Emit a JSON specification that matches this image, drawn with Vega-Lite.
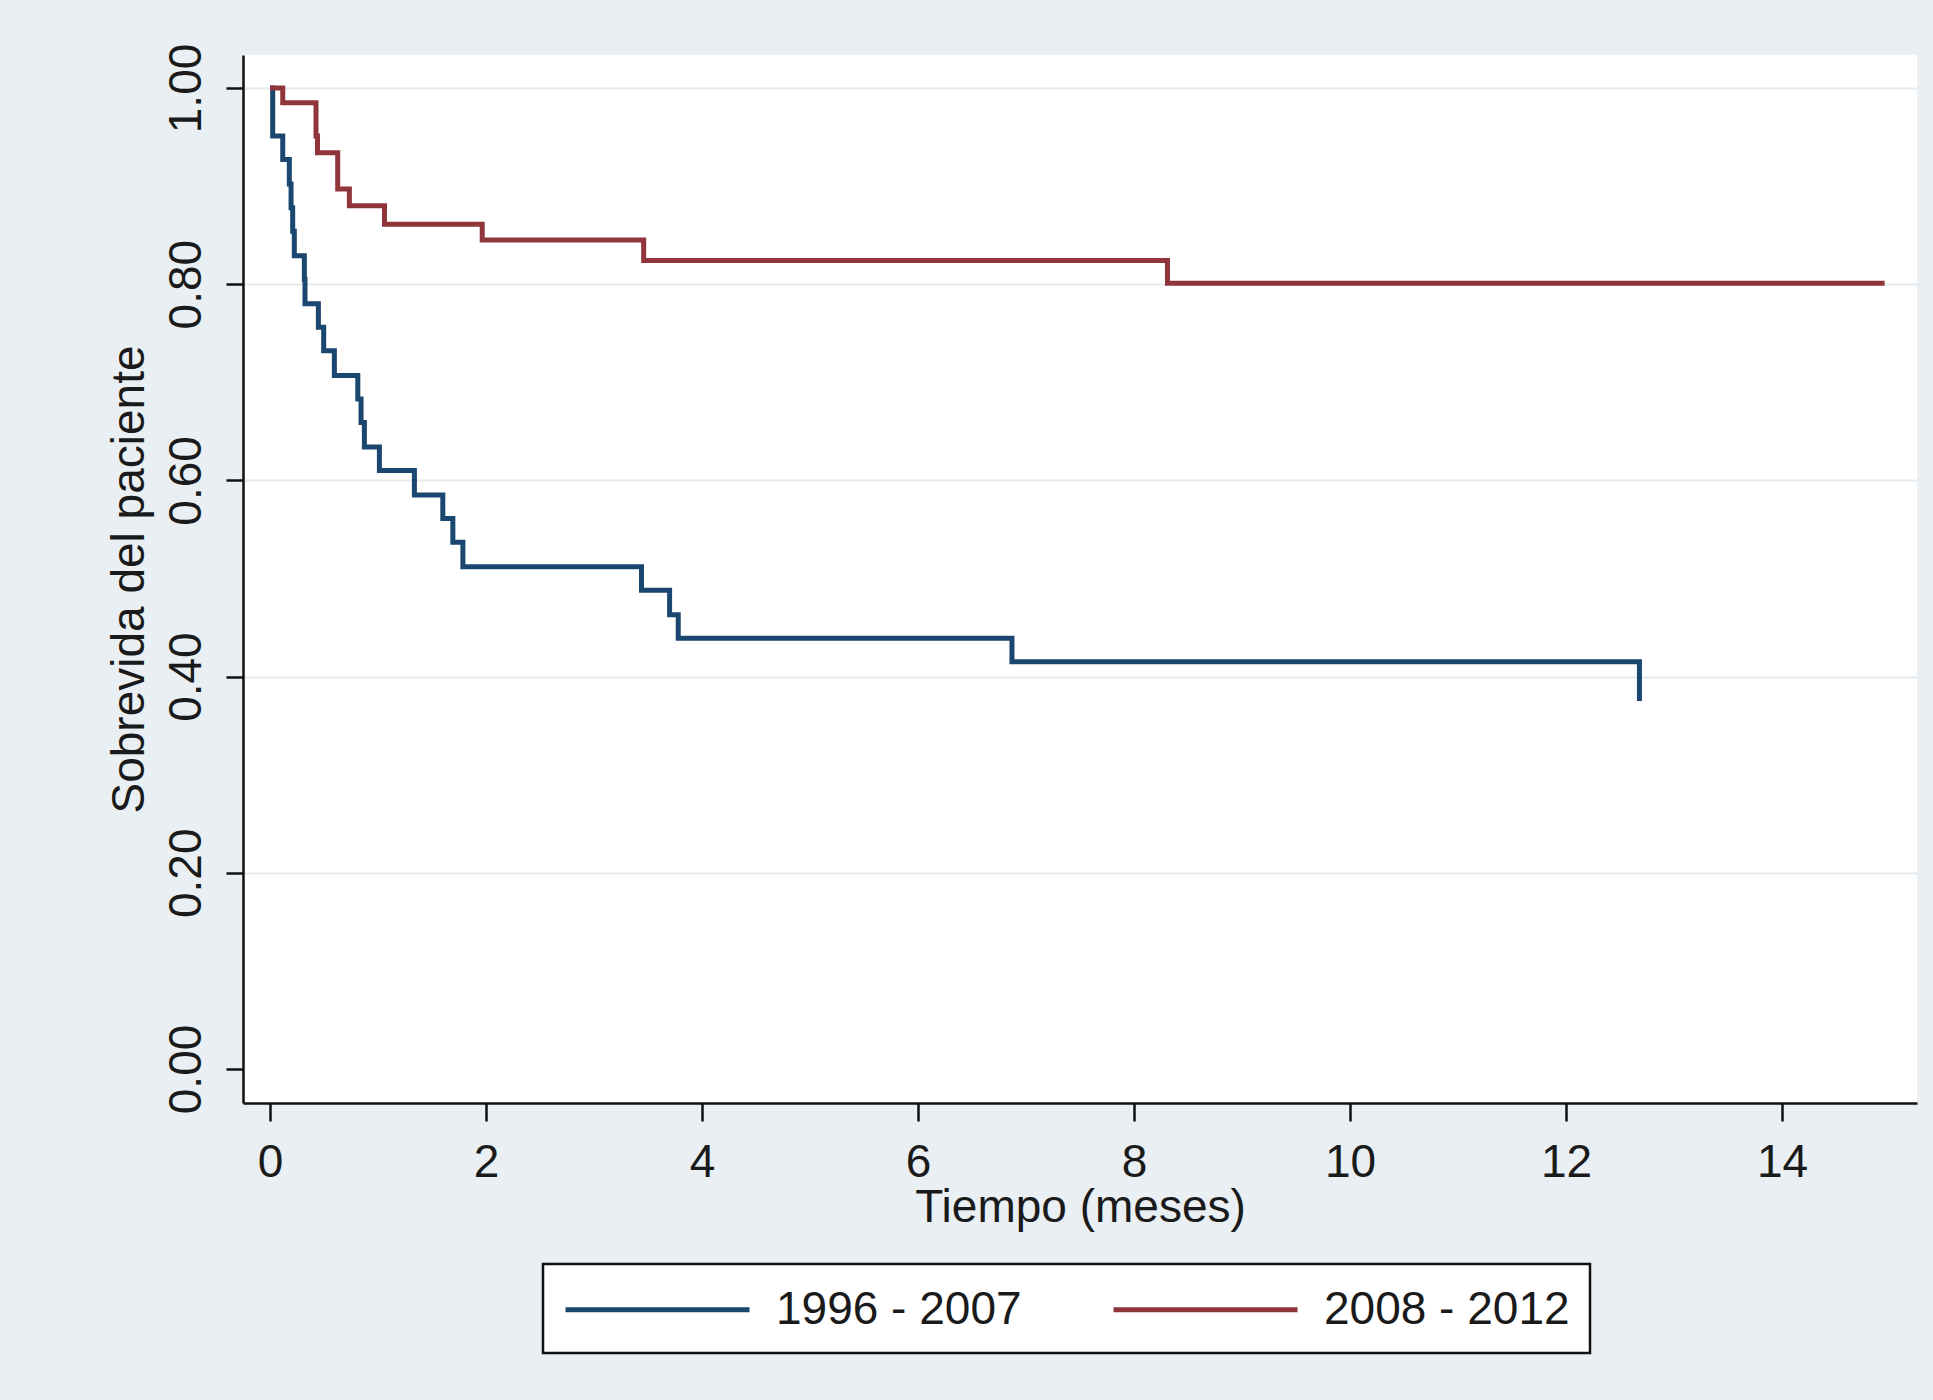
{
  "$schema": "https://vega.github.io/schema/vega-lite/v6.json",
  "width": 1674,
  "height": 1048,
  "autosize": "none",
  "padding": {"left": 243, "top": 55, "right": 16, "bottom": 297},
  "background": "#e9eff2",
  "config": {
    "view": {"fill": "white", "stroke": null},
    "font": "Liberation Sans",
    "legend": {"strokeWidth": 2.5}
  },
  "data": {
    "values": [
      {"t": 0, "S": 1.0, "grupo": "1996 - 2007"},
      {"t": 0.025, "S": 0.951, "grupo": "1996 - 2007"},
      {"t": 0.118, "S": 0.927, "grupo": "1996 - 2007"},
      {"t": 0.179, "S": 0.902, "grupo": "1996 - 2007"},
      {"t": 0.195, "S": 0.878, "grupo": "1996 - 2007"},
      {"t": 0.21, "S": 0.854, "grupo": "1996 - 2007"},
      {"t": 0.225, "S": 0.829, "grupo": "1996 - 2007"},
      {"t": 0.318, "S": 0.805, "grupo": "1996 - 2007"},
      {"t": 0.324, "S": 0.780, "grupo": "1996 - 2007"},
      {"t": 0.448, "S": 0.756, "grupo": "1996 - 2007"},
      {"t": 0.497, "S": 0.732, "grupo": "1996 - 2007"},
      {"t": 0.596, "S": 0.707, "grupo": "1996 - 2007"},
      {"t": 0.813, "S": 0.683, "grupo": "1996 - 2007"},
      {"t": 0.843, "S": 0.659, "grupo": "1996 - 2007"},
      {"t": 0.874, "S": 0.634, "grupo": "1996 - 2007"},
      {"t": 1.013, "S": 0.610, "grupo": "1996 - 2007"},
      {"t": 1.337, "S": 0.585, "grupo": "1996 - 2007"},
      {"t": 1.60, "S": 0.561, "grupo": "1996 - 2007"},
      {"t": 1.693, "S": 0.537, "grupo": "1996 - 2007"},
      {"t": 1.786, "S": 0.512, "grupo": "1996 - 2007"},
      {"t": 3.44, "S": 0.488, "grupo": "1996 - 2007"},
      {"t": 3.70, "S": 0.463, "grupo": "1996 - 2007"},
      {"t": 3.78, "S": 0.439, "grupo": "1996 - 2007"},
      {"t": 6.87, "S": 0.415, "grupo": "1996 - 2007"},
      {"t": 12.68, "S": 0.375, "grupo": "1996 - 2007"},
      {"t": 0, "S": 1.0, "grupo": "2008 - 2012"},
      {"t": 0.118, "S": 0.985, "grupo": "2008 - 2012"},
      {"t": 0.426, "S": 0.951, "grupo": "2008 - 2012"},
      {"t": 0.44, "S": 0.934, "grupo": "2008 - 2012"},
      {"t": 0.627, "S": 0.897, "grupo": "2008 - 2012"},
      {"t": 0.735, "S": 0.880, "grupo": "2008 - 2012"},
      {"t": 1.06, "S": 0.861, "grupo": "2008 - 2012"},
      {"t": 1.965, "S": 0.845, "grupo": "2008 - 2012"},
      {"t": 3.46, "S": 0.824, "grupo": "2008 - 2012"},
      {"t": 8.31, "S": 0.801, "grupo": "2008 - 2012"},
      {"t": 14.95, "S": 0.801, "grupo": "2008 - 2012"}
    ]
  },
  "mark": {"type": "line", "interpolate": "step-after", "strokeWidth": 5},
  "encoding": {
    "x": {
      "field": "t",
      "type": "quantitative",
      "scale": {"domain": [-0.25, 15.25], "nice": false, "zero": false},
      "axis": {
        "values": [0, 2, 4, 6, 8, 10, 12, 14],
        "title": "Tiempo (meses)",
        "titleFontSize": 46,
        "titleFontWeight": "normal",
        "titleColor": "#1a1a1a",
        "titlePadding": 0,
        "labelFontSize": 46,
        "labelColor": "#1a1a1a",
        "labelPadding": 19,
        "labelFlush": false,
        "tickSize": 18,
        "tickWidth": 2.5,
        "tickColor": "#111",
        "domainColor": "#111",
        "domainWidth": 2.5,
        "grid": false
      }
    },
    "y": {
      "field": "S",
      "type": "quantitative",
      "scale": {"domain": [-0.0347, 1.0336], "nice": false, "zero": false},
      "axis": {
        "values": [0, 0.2, 0.4, 0.6, 0.8, 1.0],
        "format": ".2f",
        "title": "Sobrevida del paciente",
        "titleFontSize": 46,
        "titleFontWeight": "normal",
        "titleColor": "#1a1a1a",
        "titlePadding": 10,
        "labelFontSize": 46,
        "labelColor": "#1a1a1a",
        "labelAngle": 270,
        "labelAlign": "center",
        "labelBaseline": "alphabetic",
        "labelPadding": 26,
        "labelFlush": false,
        "tickSize": 17,
        "tickWidth": 2.5,
        "tickColor": "#111",
        "domainColor": "#111",
        "domainWidth": 2.5,
        "grid": true,
        "gridColor": "#e3ebee",
        "gridWidth": 2,
        "gridOpacity": {"condition": {"test": "datum.value === 0", "value": 0}, "value": 1}
      }
    },
    "color": {
      "field": "grupo",
      "type": "nominal",
      "scale": {"domain": ["1996 - 2007", "2008 - 2012"], "range": ["#1a476f", "#90353b"]},
      "legend": {
        "title": null,
        "orient": "none",
        "legendX": 300,
        "legendY": 1209,
        "direction": "horizontal",
        "columns": 2,
        "fillColor": "white",
        "strokeColor": "#111",
        "padding": 20,
        "symbolType": "M-4,0H4",
        "symbolSize": 2116,
        "symbolStrokeWidth": 5,
        "symbolOffset": 69,
        "labelFontSize": 46,
        "labelColor": "#1a1a1a",
        "labelOffset": 93,
        "columnPadding": 81,
        "labelLimit": 0
      }
    }
  }
}
